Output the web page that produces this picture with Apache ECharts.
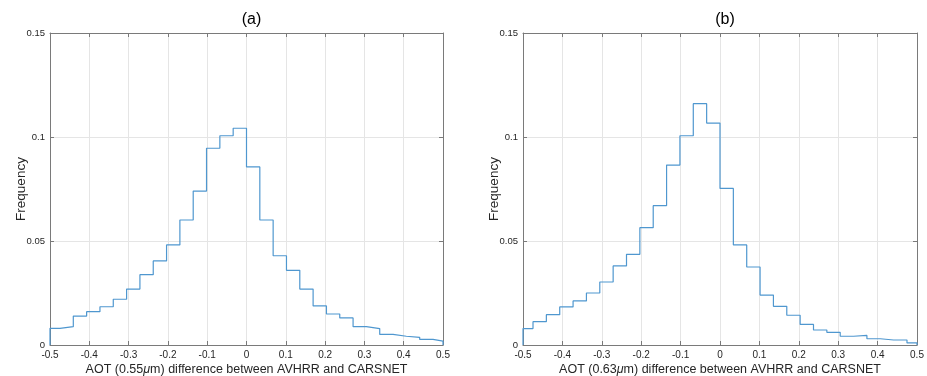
<!DOCTYPE html>
<html>
<head>
<meta charset="utf-8">
<script src="https://cdn.jsdelivr.net/npm/echarts@6/dist/echarts.min.js"></script>
<style>html,body{margin:0;padding:0;background:#fff}#c{width:927px;height:376px}</style>
</head>
<body>
<div id="c"></div>
<script>
// bin width of the histograms (edges pass through 0, outer bins clipped at +-0.5)
const binWidth = 0.0339;
const binIndexStart = -15; // first bin index (k*binWidth .. (k+1)*binWidth)
const xTicks = [-0.5,-0.4,-0.3,-0.2,-0.1,0,0.1,0.2,0.3,0.4,0.5];
const yTicks = [0,0.05,0.1,0.15];

const freqA = [0.0080,0.0088,0.0139,0.0160,0.0184,0.0220,0.0269,0.0338,0.0404,0.0481,0.0601,0.0740,0.0946,0.1006,0.1042,
               0.0856,0.0601,0.0429,0.0359,0.0269,0.0188,0.0149,0.0130,0.0088,0.0079,0.0051,0.0042,0.0037,0.0027,0.0019];
const freqB = [0.0079,0.0112,0.0146,0.0183,0.0212,0.0250,0.0303,0.0380,0.0436,0.0564,0.0670,0.0865,0.1006,0.1160,0.1067,
               0.0753,0.0481,0.0375,0.0240,0.0186,0.0143,0.0099,0.0072,0.0061,0.0042,0.0046,0.0030,0.0024,0.0024,0.0010];

const titles = ['(a)','(b)'];
const wavelengths = ['0.55','0.63'];

const xMin = -0.5, xMax = 0.5;
function stairs(vals){
  const pts = [];
  const clamp = v => Math.max(xMin, Math.min(xMax, v));
  const e0 = clamp(binIndexStart*binWidth);
  pts.push([e0, 0]);
  vals.forEach((v,i)=>{
    const a = clamp((binIndexStart+i)*binWidth);
    const b = clamp((binIndexStart+i+1)*binWidth);
    pts.push([a, v]); pts.push([b, v]);
  });
  pts.push([clamp((binIndexStart+vals.length)*binWidth), 0]);
  return pts;
}

const FONT = '"Liberation Sans", Arial, Helvetica, sans-serif';
const axisCol = '#7a7a7a';
const labelCol = '#262626';
const grids = [
  {left:50, right:484, top:33, bottom:31, outerBoundsMode:'none', containLabel:false},
  {left:523, right:10, top:33, bottom:31, outerBoundsMode:'none', containLabel:false}
];

const xAxis = [], yAxis = [], series = [], title = [];
grids.forEach((g,i)=>{
  const baseX = {
    type:'value', gridIndex:i, min:xMin, max:xMax, interval:0.1,
    axisLine:{show:true, onZero:false, lineStyle:{color:axisCol, width:1}},
    axisTick:{show:true, inside:true, length:4, lineStyle:{color:axisCol}},
    splitLine:{show:false}
  };
  xAxis.push(Object.assign({}, baseX, {
    position:'bottom',
    axisLabel:{show:true, color:labelCol, fontSize:10, fontFamily:FONT, margin:5,
      formatter: v => String(Math.round(v*10)/10)},
    splitLine:{show:true, lineStyle:{color:'#e5e5e5', width:1}},
    name:'{n|AOT (' + wavelengths[i] + '}{m|μ}{n|m) difference between AVHRR and CARSNET}',
    nameLocation:'middle', nameGap:18, nameMoveOverlap:false,
    nameTextStyle:{rich:{n:{fontSize:12.5, fontFamily:FONT, color:labelCol}, m:{fontSize:12.5, fontFamily:FONT, fontStyle:'italic', color:labelCol}}}
  }));
  xAxis.push(Object.assign({}, baseX, {position:'top', axisLabel:{show:false}}));
  const baseY = {
    type:'value', gridIndex:i, min:0, max:0.15, interval:0.05,
    axisLine:{show:true, onZero:false, lineStyle:{color:axisCol, width:1}},
    axisTick:{show:true, inside:true, length:4, lineStyle:{color:axisCol}},
    splitLine:{show:false}
  };
  yAxis.push(Object.assign({}, baseY, {
    position:'left',
    axisLabel:{show:true, color:labelCol, fontSize:9.5, fontFamily:FONT, margin:5,
      formatter: v => String(Math.round(v*100)/100)},
    splitLine:{show:true, lineStyle:{color:'#e5e5e5', width:1}},
    name:'Frequency', nameLocation:'middle', nameGap:22, nameMoveOverlap:false,
    nameTextStyle:{fontSize:13.5, fontFamily:FONT, color:labelCol}
  }));
  yAxis.push(Object.assign({}, baseY, {position:'right', axisLabel:{show:false}}));
  series.push({
    type:'line', xAxisIndex:2*i, yAxisIndex:2*i,
    data: stairs(i===0?freqA:freqB),
    showSymbol:false, symbol:'none', clip:true,
    lineStyle:{color:'#4f97cf', width:1.2}, animation:false
  });
  title.push({
    text: titles[i], left: g.left + (927-g.left-g.right)/2, top: 7, textAlign:'center',
    textStyle:{fontSize:16, fontWeight:'normal', color:'#000', fontFamily:FONT}
  });
});

const chart = echarts.init(document.getElementById('c'), null, {renderer:'canvas'});
chart.setOption({animation:false, title, grid:grids, xAxis, yAxis, series});
</script>
</body>
</html>
